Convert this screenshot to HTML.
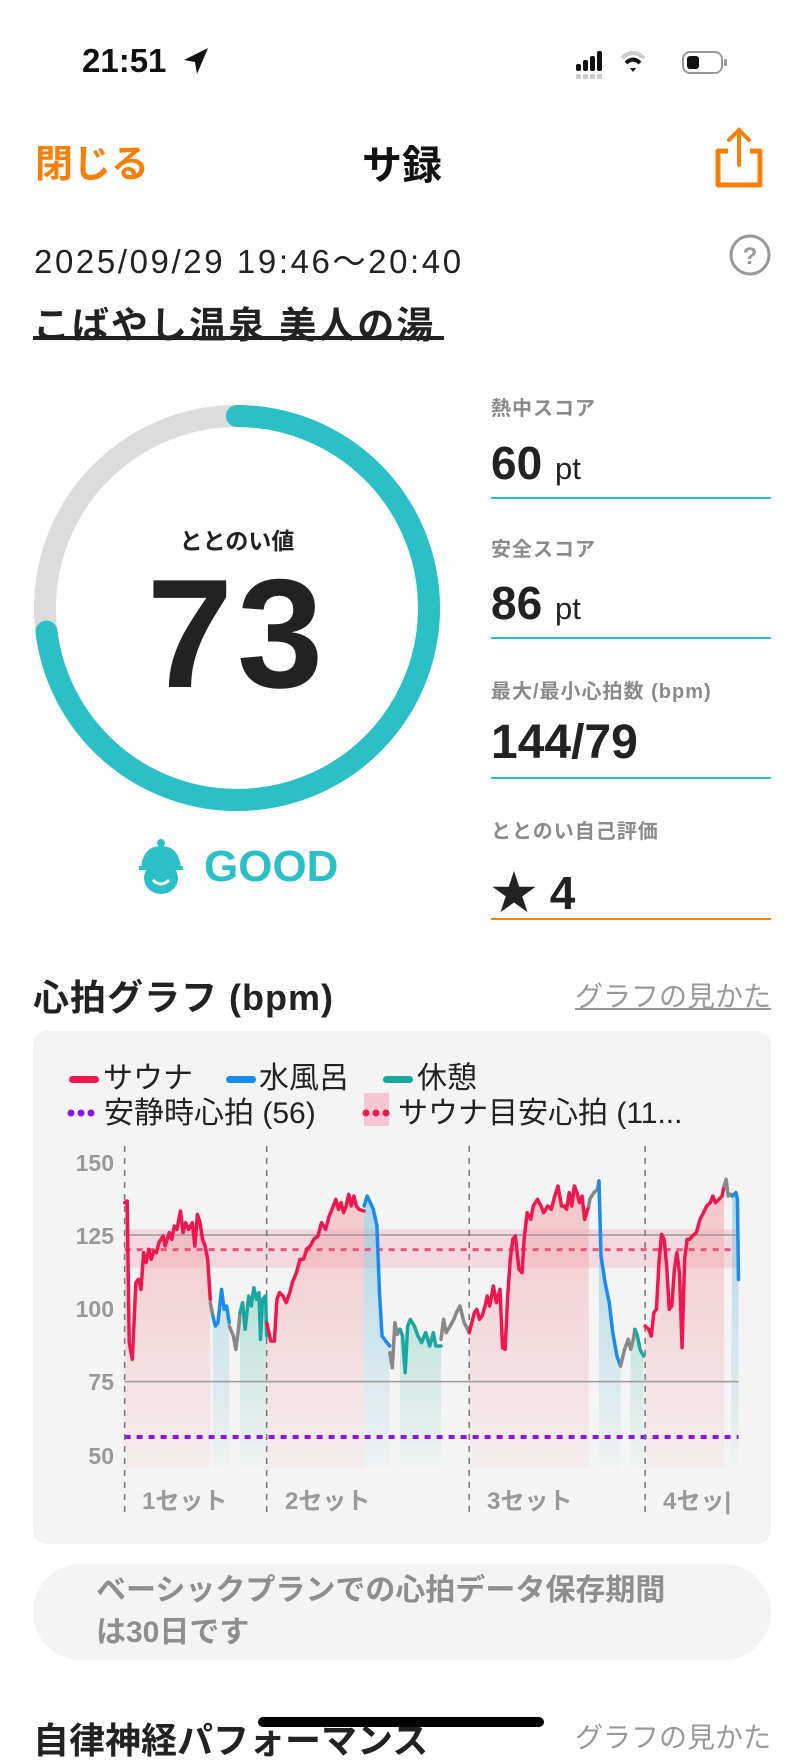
<!DOCTYPE html>
<html><head><meta charset="utf-8">
<style>
*{margin:0;padding:0;box-sizing:border-box}
body{width:800px;height:1734px;overflow:hidden;background:#fff;position:relative;font-family:"Liberation Sans","Noto Sans CJK JP",sans-serif;color:#222}
.a{position:absolute;white-space:nowrap}
.lbl{font-size:20px;color:#8a8a8a;font-weight:bold;letter-spacing:1px}
.val{font-size:46px;font-weight:bold;color:#222}
.val small{font-size:31px;font-weight:normal}
.ln{position:absolute;left:491px;width:280px;height:2px;background:#2bc0c6}
.yl{position:absolute;right:686px;font-size:23px;font-weight:bold;color:#999;line-height:1}
.leg{font-size:30px;color:#222;line-height:1}
.set{font-size:24px;font-weight:bold;color:#999}
</style></head><body>
<div class="a" style="left:82px;top:42px;font-size:33px;font-weight:bold;color:#111">21:51</div>
<svg class="a" style="left:182px;top:46px" width="28" height="30" viewBox="0 0 28 30"><path d="M26 2 L2 14 L13 16 L15 28 Z" fill="#111"/></svg>
<svg class="a" style="left:570px;top:44px" width="170" height="36" viewBox="0 0 170 36">
<rect x="6" y="20" width="5" height="7" rx="2" fill="#111"/><rect x="13" y="16" width="5" height="11" rx="2" fill="#111"/><rect x="20" y="12" width="5" height="15" rx="2" fill="#111"/><rect x="27" y="7" width="5" height="20" rx="2" fill="#111"/>
<rect x="6" y="30" width="5" height="5" fill="#ccc"/><rect x="13" y="30" width="5" height="5" fill="#ccc"/><rect x="20" y="30" width="5" height="5" fill="#ccc"/><rect x="27" y="30" width="5" height="5" fill="#ccc"/>
<path d="M52 14 Q63 4 74 14" stroke="#ccc" stroke-width="4" fill="none"/><path d="M56 19 Q63 12 70 19" stroke="#111" stroke-width="4" fill="none"/><path d="M60 24 L63 28 L66 24 Z" fill="#111"/>
<rect x="113" y="8" width="39" height="21" rx="7" fill="none" stroke="#999" stroke-width="2"/><rect x="117" y="12" width="12" height="13" rx="3" fill="#111"/><rect x="154" y="15" width="3" height="7" rx="1" fill="#999"/>
</svg>
<div class="a" style="left:35px;top:133px;font-size:38px;color:#f7800a;font-weight:bold">閉じる</div>
<div class="a" style="left:362px;top:133px;font-size:40px;font-weight:bold;color:#111">サ録</div>
<svg class="a" style="left:712px;top:125px" width="54" height="66" viewBox="0 0 54 66"><path d="M16 26 H6 V60 H48 V26 H38" stroke="#f7800a" stroke-width="5" fill="none" stroke-linejoin="round"/><path d="M27 40 V5 M17 15 L27 5 L37 15" stroke="#f7800a" stroke-width="4" fill="none" stroke-linecap="round"/></svg>
<div class="a" style="left:34px;top:235px;font-size:33px;letter-spacing:2.6px;color:#222">2025/09/29 19:46～20:40</div>
<svg class="a" style="left:728px;top:233px" width="44" height="44" viewBox="0 0 44 44"><circle cx="22" cy="22" r="19" fill="none" stroke="#999" stroke-width="3"/><text x="22" y="31" text-anchor="middle" font-size="24" font-weight="bold" fill="#999" font-family="Liberation Sans">?</text></svg>
<div class="a" style="left:33px;top:295px;font-size:37px;letter-spacing:2px;font-weight:bold;color:#222">こばやし温泉 美人の湯</div>
<div class="a" style="left:33px;top:336px;width:411px;height:4px;background:#222"></div>
<svg class="a" style="left:0;top:380px" width="480" height="460" viewBox="0 380 480 460">
<circle cx="237" cy="608" r="192" fill="none" stroke="#dcdcdc" stroke-width="22"/>
<circle cx="237" cy="608" r="192" fill="none" stroke="#2bc0c6" stroke-width="22" stroke-linecap="round" stroke-dasharray="880.7 2000" transform="rotate(-90 237 608)"/>
</svg>
<div class="a" style="left:137px;top:522px;width:200px;text-align:center;font-size:23px;font-weight:bold">ととのい値</div>
<div class="a" style="left:67px;top:556px;width:340px;text-align:center;font-size:155px;font-weight:bold;line-height:1;color:#222;letter-spacing:4px">73</div>
<svg class="a" style="left:137px;top:838px" width="48" height="58" viewBox="0 0 48 58"><circle cx="24" cy="5" r="4" fill="#2bc0c6"/><path d="M4 30 Q6 8 24 8 Q42 8 44 30 Z" fill="#2bc0c6"/><path d="M2 30 H46" stroke="#2bc0c6" stroke-width="4"/><ellipse cx="24" cy="40" rx="17" ry="16" fill="#2bc0c6"/><path d="M16 42 Q24 50 32 42" stroke="#fff" stroke-width="3" fill="none"/></svg>
<div class="a" style="left:204px;top:842px;font-size:44px;font-weight:bold;color:#2bc0c6">GOOD</div>
<div class="a lbl" style="left:491px;top:392px">熱中スコア</div>
<div class="a val" style="left:491px;top:436px">60 <small>pt</small></div>
<div class="ln" style="top:497px"></div>
<div class="a lbl" style="left:491px;top:533px">安全スコア</div>
<div class="a val" style="left:491px;top:576px">86 <small>pt</small></div>
<div class="ln" style="top:637px"></div>
<div class="a lbl" style="left:491px;top:675px">最大/最小心拍数 (bpm)</div>
<div class="a val" style="left:491px;top:715px;font-size:48px">144/79</div>
<div class="ln" style="top:777px"></div>
<div class="a lbl" style="left:491px;top:815px">ととのい自己評価</div>
<div class="a val" style="left:491px;top:857px">★ 4</div>
<div class="ln" style="top:918px;background:#f7800a"></div>
<div class="a" style="left:33px;top:969px;font-size:36px;letter-spacing:1px;font-weight:bold;color:#222">心拍グラフ (bpm)</div>
<div class="a" style="right:29px;top:975px;font-size:28px;color:#999;text-decoration:underline">グラフの見かた</div>
<div class="a" style="left:33px;top:1031px;width:738px;height:513px;border-radius:14px;background:#f4f4f4"></div>
<div class="a" style="left:69px;top:1076px;width:30px;height:7px;border-radius:4px;background:#f0174f"></div>
<div class="a leg" style="left:103px;top:1064px">サウナ</div>
<div class="a" style="left:226px;top:1076px;width:30px;height:7px;border-radius:4px;background:#1a8cf0"></div>
<div class="a leg" style="left:259px;top:1064px">水風呂</div>
<div class="a" style="left:383px;top:1076px;width:30px;height:7px;border-radius:4px;background:#1aa7a0"></div>
<div class="a leg" style="left:417px;top:1064px">休憩</div>
<svg class="a" style="left:66px;top:1107px" width="32" height="12"><circle cx="5" cy="6" r="3.5" fill="#8a12f5"/><circle cx="15" cy="6" r="3.5" fill="#8a12f5"/><circle cx="25" cy="6" r="3.5" fill="#8a12f5"/></svg>
<div class="a leg" style="left:104px;top:1099px">安静時心拍 (56)</div>
<div class="a" style="left:364px;top:1093px;width:25px;height:33px;background:#f6c6d3"></div>
<svg class="a" style="left:361px;top:1107px" width="32" height="12"><circle cx="5" cy="6" r="3.5" fill="#f0174f"/><circle cx="15" cy="6" r="3.5" fill="#f0174f"/><circle cx="25" cy="6" r="3.5" fill="#f0174f"/></svg>
<div class="a leg" style="left:398px;top:1099px">サウナ目安心拍 (11...</div>
<div class="yl" style="top:1152px">150</div>
<div class="yl" style="top:1225px">125</div>
<div class="yl" style="top:1298px">100</div>
<div class="yl" style="top:1371px">75</div>
<div class="yl" style="top:1445px">50</div>
<svg class="a" style="left:0;top:1006px" width="800" height="520" viewBox="0 0 1560 1560" preserveAspectRatio="none">
<defs>
<linearGradient id="gr" gradientUnits="userSpaceOnUse" x1="0" y1="520" x2="0" y2="1390"><stop offset="0" stop-color="#f2a5ad" stop-opacity="0.6"/><stop offset="1" stop-color="#f2a5ad" stop-opacity="0.08"/></linearGradient>
<linearGradient id="gb" gradientUnits="userSpaceOnUse" x1="0" y1="560" x2="0" y2="1390"><stop offset="0" stop-color="#7cc3dc" stop-opacity="0.6"/><stop offset="1" stop-color="#7cc3dc" stop-opacity="0.03"/></linearGradient>
<linearGradient id="gt" gradientUnits="userSpaceOnUse" x1="0" y1="840" x2="0" y2="1390"><stop offset="0" stop-color="#8fd3c8" stop-opacity="0.6"/><stop offset="1" stop-color="#8fd3c8" stop-opacity="0.03"/></linearGradient>
</defs>
<rect x="243" y="670" width="1197" height="115" fill="#f5b5c5" fill-opacity="0.45"/>
<g stroke="none">
<path fill="url(#gr)" d="M243 1390 L243 590 248 585 252 1010 258 1060 265 830 270 820 275 850 280 740 285 770 290 730 295 760 300 735 305 740 310 710 318 690 322 720 330 680 335 700 340 660 345 670 352 615 357 680 362 650 368 670 375 650 380 720 385 625 390 650 395 700 400 720 405 760 410 880 410 1390Z"/>
<path fill="url(#gb)" d="M415 1390 L415 930 420 960 425 950 432 850 437 910 442 900 447 950 447 1390Z"/>
<path fill="url(#gt)" d="M468 1390 L468 920 473 890 478 970 485 870 490 900 495 845 500 880 505 860 508 1000 512 880 518 870 520 990 520 1390Z"/>
<path fill="url(#gr)" d="M520 1390 L520 950 528 1005 535 1005 540 880 545 860 552 870 558 890 565 860 570 830 578 800 585 760 592 760 598 730 605 720 612 700 620 690 627 650 635 670 642 630 650 600 655 580 660 610 665 590 670 620 675 600 680 565 685 600 690 570 695 600 700 610 710 615 710 1390Z"/>
<path fill="url(#gb)" d="M710 1390 L710 600 716 570 722 590 728 610 735 660 740 860 745 990 752 1005 760 1020 760 1390Z"/>
<path fill="url(#gt)" d="M780 1390 L780 970 785 990 790 1100 795 960 800 940 808 960 815 990 822 1010 830 980 838 1020 845 980 850 1020 860 1020 860 1390Z"/>
<path fill="url(#gr)" d="M915 1390 L915 980 920 950 925 920 930 910 935 940 940 930 946 900 950 870 955 900 962 840 968 890 975 850 980 1025 985 1030 990 870 995 760 1000 700 1005 690 1012 790 1018 800 1022 700 1028 620 1035 640 1040 600 1048 580 1055 600 1060 620 1068 600 1075 610 1080 580 1088 540 1095 600 1100 600 1105 610 1110 560 1115 600 1120 540 1125 560 1130 590 1135 570 1140 640 1148 600 1148 1390Z"/>
<path fill="url(#gb)" d="M1168 1390 L1168 525 1172 750 1180 830 1188 890 1195 980 1203 1050 1210 1080 1210 1390Z"/>
<path fill="url(#gt)" d="M1228 1390 L1230 1030 1235 1000 1238 970 1243 990 1248 1030 1255 1050 1255 1390Z"/>
<path fill="url(#gr)" d="M1258 1390 L1258 960 1265 970 1270 990 1275 920 1280 910 1285 770 1290 685 1295 700 1300 780 1305 910 1310 900 1315 790 1320 740 1325 800 1330 1025 1335 760 1340 700 1345 700 1350 690 1358 680 1365 640 1372 620 1378 600 1385 590 1390 570 1395 590 1402 580 1408 570 1412 540 1412 1390Z"/>
<path fill="url(#gb)" d="M1425 1390 L1428 570 1435 560 1438 580 1440 820 1440 1390Z"/>
</g>
<g fill="none">
<line x1="243" y1="687" x2="1440" y2="687" stroke="#999" stroke-width="1.5" vector-effect="non-scaling-stroke"/>
<line x1="243" y1="1127" x2="1440" y2="1127" stroke="#999" stroke-width="1.5" vector-effect="non-scaling-stroke"/>
<line x1="243" y1="731" x2="1440" y2="731" stroke="#f0527a" stroke-width="3" stroke-dasharray="6 6" vector-effect="non-scaling-stroke"/>
<line x1="243" y1="1293" x2="1440" y2="1293" stroke="#8a12f5" stroke-width="4" stroke-dasharray="6 6" vector-effect="non-scaling-stroke"/>
<g stroke="#777" stroke-width="1.5" stroke-dasharray="6 6">
<line x1="243" y1="420" x2="243" y2="1520" vector-effect="non-scaling-stroke"/>
<line x1="520" y1="420" x2="520" y2="1520" vector-effect="non-scaling-stroke"/>
<line x1="915" y1="420" x2="915" y2="1520" vector-effect="non-scaling-stroke"/>
<line x1="1258" y1="420" x2="1258" y2="1520" vector-effect="non-scaling-stroke"/>
</g>
</g>
<g fill="none" stroke-width="3.5" stroke-linejoin="round" stroke-linecap="round">
<polyline vector-effect="non-scaling-stroke" stroke="#f0174f" points="243 590 248 585 252 1010 258 1060 265 830 270 820 275 850 280 740 285 770 290 730 295 760 300 735 305 740 310 710 318 690 322 720 330 680 335 700 340 660 345 670 352 615 357 680 362 650 368 670 375 650 380 720 385 625 390 650 395 700 400 720 405 760 410 880"/>
<polyline vector-effect="non-scaling-stroke" stroke="#888" points="410 890 415 930"/>
<polyline vector-effect="non-scaling-stroke" stroke="#1a8cf0" points="415 930 420 960 425 950 432 850 437 910 442 900 447 950"/>
<polyline vector-effect="non-scaling-stroke" stroke="#888" points="447 960 455 990 460 1030 465 970 468 920"/>
<polyline vector-effect="non-scaling-stroke" stroke="#1aa7a0" points="468 920 473 890 478 970 485 870 490 900 495 845 500 880 505 860 508 1000 512 880 518 870 520 990"/>
<polyline vector-effect="non-scaling-stroke" stroke="#f0174f" points="520 950 528 1005 535 1005 540 880 545 860 552 870 558 890 565 860 570 830 578 800 585 760 592 760 598 730 605 720 612 700 620 690 627 650 635 670 642 630 650 600 655 580 660 610 665 590 670 620 675 600 680 565 685 600 690 570 695 600 700 610 710 615"/>
<polyline vector-effect="non-scaling-stroke" stroke="#1a8cf0" points="710 600 716 570 722 590 728 610 735 660 740 860 745 990 752 1005 760 1020"/>
<polyline vector-effect="non-scaling-stroke" stroke="#888" points="760 1040 765 1085 770 950 775 985 780 970"/>
<polyline vector-effect="non-scaling-stroke" stroke="#1aa7a0" points="780 970 785 990 790 1100 795 960 800 940 808 960 815 990 822 1010 830 980 838 1020 845 980 850 1020 860 1020"/>
<polyline vector-effect="non-scaling-stroke" stroke="#888" points="860 1000 865 940 870 980 878 960 885 940 890 920 897 900 905 950 912 970 915 980"/>
<polyline vector-effect="non-scaling-stroke" stroke="#f0174f" points="915 980 920 950 925 920 930 910 935 940 940 930 946 900 950 870 955 900 962 840 968 890 975 850 980 1025 985 1030 990 870 995 760 1000 700 1005 690 1012 790 1018 800 1022 700 1028 620 1035 640 1040 600 1048 580 1055 600 1060 620 1068 600 1075 610 1080 580 1088 540 1095 600 1100 600 1105 610 1110 560 1115 600 1120 540 1125 560 1130 590 1135 570 1140 640 1148 600"/>
<polyline vector-effect="non-scaling-stroke" stroke="#888" points="1148 600 1150 580 1158 560 1165 550 1168 525"/>
<polyline vector-effect="non-scaling-stroke" stroke="#1a8cf0" points="1168 525 1172 750 1180 830 1188 890 1195 980 1203 1050 1210 1080"/>
<polyline vector-effect="non-scaling-stroke" stroke="#888" points="1210 1080 1218 1030 1225 1000 1230 1030 1235 1000 1238 970"/>
<polyline vector-effect="non-scaling-stroke" stroke="#1aa7a0" points="1238 970 1243 990 1248 1030 1255 1050"/>
<polyline vector-effect="non-scaling-stroke" stroke="#f0174f" points="1258 960 1265 970 1270 990 1275 920 1280 910 1285 770 1290 685 1295 700 1300 780 1305 910 1310 900 1315 790 1320 740 1325 800 1330 1025 1335 760 1340 700 1345 700 1350 690 1358 680 1365 640 1372 620 1378 600 1385 590 1390 570 1395 590 1402 580 1408 570 1412 540"/>
<polyline vector-effect="non-scaling-stroke" stroke="#888" points="1412 540 1416 520 1420 570 1425 565 1428 570"/>
<polyline vector-effect="non-scaling-stroke" stroke="#1a8cf0" points="1428 570 1435 560 1438 580 1440 820"/>
</g>
</svg>
<div class="a set" style="left:142px;top:1481px">1セット</div>
<div class="a set" style="left:285px;top:1481px">2セット</div>
<div class="a set" style="left:487px;top:1481px">3セット</div>
<div class="a set" style="left:663px;top:1481px">4セッ|</div>
<div class="a" style="left:33px;top:1564px;width:738px;height:96px;border-radius:48px;background:#f4f4f4"></div>
<div class="a" style="left:96px;top:1570px;font-size:30px;font-weight:bold;color:#8e8e8e;line-height:42px">ベーシックプランでの心拍データ保存期間<br>は30日です</div>
<div class="a" style="left:33px;top:1712px;font-size:36px;font-weight:bold;color:#222">自律神経パフォーマンス</div>
<div class="a" style="right:29px;top:1716px;font-size:28px;color:#999">グラフの見かた</div>
<div class="a" style="left:258px;top:1717px;width:286px;height:10px;border-radius:5px;background:#000"></div>
</body></html>
